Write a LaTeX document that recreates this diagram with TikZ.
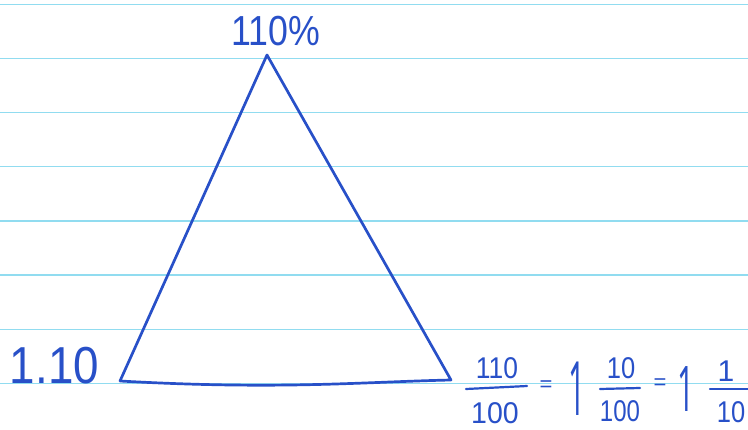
\documentclass[tikz,border=0pt]{standalone}
\usepackage{fontspec}
\setmainfont{Liberation Sans}
\newfontfamily\onefont{Open Sans}
\definecolor{ink}{RGB}{40,80,200}
\definecolor{ruleblue}{RGB}{145,220,240}
\begin{document}
\begin{tikzpicture}[x=1pt,y=-1pt,
  inkline/.style={draw=ink,line width=2.7pt,line cap=round,line join=round},
  ruling/.style={draw=ruleblue,line width=1.4pt},
  lbl/.style={text=ink,inner sep=0pt,outer sep=0pt},
  big/.style={lbl,font=\fontsize{42}{48}\selectfont},
  bigger/.style={lbl,font=\fontsize{52}{60}\selectfont},
  frac/.style={lbl,font=\fontsize{30}{36}\selectfont},
  eqs/.style={lbl,font=\fontsize{22}{26}\selectfont},
  whole/.style={lbl,font=\onefont\fontsize{30}{36}\selectfont}]
\fill[white] (0,0) rectangle (748,429);
\useasboundingbox (0,0) rectangle (748,429);
\foreach \k in {0,...,7} \draw[ruling] (0,{4.3+54.15*\k}) -- (748,{4.3+54.15*\k});
% triangle
\coordinate (A) at (267,55);
\coordinate (B) at (120,381);
\coordinate (C) at (451,380);
\draw[inkline] (B) -- (A) -- (C) .. controls (360,382) and (280,390) .. (B);
% labels
\node[big,anchor=base] (top) at (276,45) {\scalebox{0.85}[1]{110\%}};
\node[bigger,anchor=base east] (left) at (99,383) {\scalebox{0.88}[1]{1.10}};
% fraction 1
\node[frac,anchor=base] (n1) at (497,378) {\scalebox{0.88}[1]{110}};
\node[frac,anchor=base] (d1) at (495,423) {\scalebox{0.95}[1]{100}};
\coordinate (b1a) at (466,389);
\coordinate (b1b) at (527,386);
\draw[inkline,line width=2.2pt] (b1a) -- (b1b);
\node[eqs] (e1) at (546,386) {=};
\node[whole,anchor=base] (w1) at (577,415) {\scalebox{1}[2.5]{1}};
% fraction 2
\node[frac,anchor=base] (n2) at (621,378) {\scalebox{0.85}[1]{10}};
\node[frac,anchor=base] (d2) at (620,421) {\scalebox{0.8}[1]{100}};
\coordinate (b2a) at (600,389);
\coordinate (b2b) at (640,388);
\draw[inkline,line width=2.2pt] (b2a) -- (b2b);
\node[eqs] (e2) at (660,384) {=};
\node[whole,anchor=base] (w2) at (686,411) {\scalebox{1}[2.1]{1}};
% fraction 3
\node[frac,anchor=base] (n3) at (726,381) {1};
\node[frac,anchor=base] (d3) at (731,422) {\scalebox{0.85}[1]{10}};
\coordinate (b3a) at (710,389);
\coordinate (b3b) at (748,389);
\draw[inkline,line width=2.2pt] (b3a) -- (b3b);
\end{tikzpicture}
\end{document}
